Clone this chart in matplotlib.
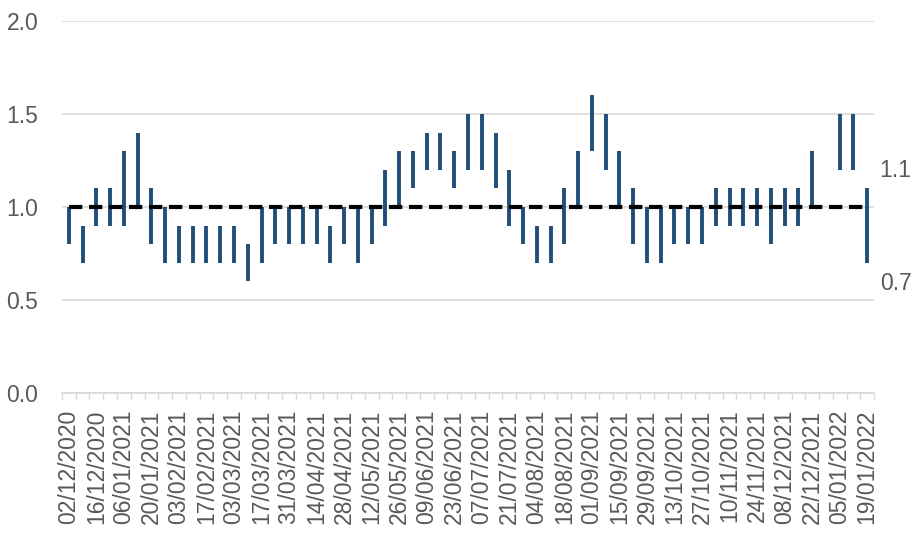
import numpy as np
from matplotlib import pyplot as plt

plt.rcParams['font.family'] = ['Liberation Sans', 'DejaVu Sans']

dates = ["02/12/2020", "09/12/2020", "16/12/2020", "23/12/2020", "06/01/2021", "13/01/2021",
         "20/01/2021", "27/01/2021", "03/02/2021", "10/02/2021", "17/02/2021", "24/02/2021",
         "03/03/2021", "10/03/2021", "17/03/2021", "24/03/2021", "31/03/2021", "07/04/2021",
         "14/04/2021", "21/04/2021", "28/04/2021", "05/05/2021", "12/05/2021", "19/05/2021",
         "26/05/2021", "02/06/2021", "09/06/2021", "16/06/2021", "23/06/2021", "30/06/2021",
         "07/07/2021", "14/07/2021", "21/07/2021", "28/07/2021", "04/08/2021", "11/08/2021",
         "18/08/2021", "25/08/2021", "01/09/2021", "08/09/2021", "15/09/2021", "22/09/2021",
         "29/09/2021", "06/10/2021", "13/10/2021", "20/10/2021", "27/10/2021", "03/11/2021",
         "10/11/2021", "17/11/2021", "24/11/2021", "01/12/2021", "08/12/2021", "15/12/2021",
         "22/12/2021", "29/12/2021", "05/01/2022", "12/01/2022", "19/01/2022"]

upper = [1.0, 0.9, 1.1, 1.1, 1.3, 1.4, 1.1, 1.0, 0.9, 0.9, 0.9, 0.9, 0.9, 0.8, 1.0, 1.0,
         1.0, 1.0, 1.0, 0.9, 1.0, 1.0, 1.0, 1.2, 1.3, 1.3, 1.4, 1.4, 1.3, 1.5, 1.5, 1.4,
         1.2, 1.0, 0.9, 0.9, 1.1, 1.3, 1.6, 1.5, 1.3, 1.1, 1.0, 1.0, 1.0, 1.0, 1.0, 1.1,
         1.1, 1.1, 1.1, 1.1, 1.1, 1.1, 1.3, np.nan, 1.5, 1.5, 1.1]
lower = [0.8, 0.7, 0.9, 0.9, 0.9, 1.0, 0.8, 0.7, 0.7, 0.7, 0.7, 0.7, 0.7, 0.6, 0.7, 0.8,
         0.8, 0.8, 0.8, 0.7, 0.8, 0.7, 0.8, 0.9, 1.0, 1.1, 1.2, 1.2, 1.1, 1.2, 1.2, 1.1,
         0.9, 0.8, 0.7, 0.7, 0.8, 1.0, 1.3, 1.2, 1.0, 0.8, 0.7, 0.7, 0.8, 0.8, 0.8, 0.9,
         0.9, 0.9, 0.9, 0.8, 0.9, 0.9, 1.0, np.nan, 1.2, 1.2, 0.7]
threshold = [1.0] * len(dates)

x = np.arange(len(dates))
grey_text = "#595959"
grid_c = "#d9d9d9"

fig = plt.figure(figsize=(9.24, 5.41), dpi=100)
ax = fig.add_axes([0.067, 0.274, 0.879, 0.687])

ax.vlines(x, lower, upper, color="#1f4e79", linewidth=2.8, zorder=3)
ax.plot(x, threshold, color="black", linestyle=(0, (3.2, 1.6)), linewidth=3.0, zorder=4)

ax.set_ylim(0, 2.0)
ax.set_xlim(-0.5, len(dates) - 0.5)
ax.set_yticks(np.arange(0, 2.01, 0.5))
ax.set_yticklabels([f"{v:.1f}" for v in np.arange(0, 2.01, 0.5)])
ax.yaxis.grid(True, color=grid_c, linewidth=1.2, zorder=0)
ax.set_axisbelow(True)

ax.set_xticks(x[::2])
ax.set_xticklabels(dates[::2], rotation=90)
ax.set_xticks(np.arange(-0.5, len(dates), 1), minor=True)
ax.tick_params(axis='x', which='major', length=0, pad=12, labelsize=16.5, labelcolor=grey_text)
ax.tick_params(axis='x', which='minor', length=5, color=grid_c, width=1)
ax.tick_params(axis='y', length=0, pad=17, labelsize=16.5, labelcolor=grey_text)

for s in ["top", "right", "left"]:
    ax.spines[s].set_visible(False)
ax.spines["bottom"].set_color(grid_c)
ax.spines["bottom"].set_linewidth(1.2)

last = len(dates) - 1
ax.annotate(f"{upper[last]:.1f}", (x[last], upper[last]), xytext=(9, 13), textcoords="offset points",
            fontsize=16.5, color=grey_text, ha="left", va="center", annotation_clip=False)
ax.annotate(f"{lower[last]:.1f}", (x[last], lower[last]), xytext=(9, -15), textcoords="offset points",
            fontsize=16.5, color=grey_text, ha="left", va="center", annotation_clip=False)

fig.savefig("out.png", dpi=100)
